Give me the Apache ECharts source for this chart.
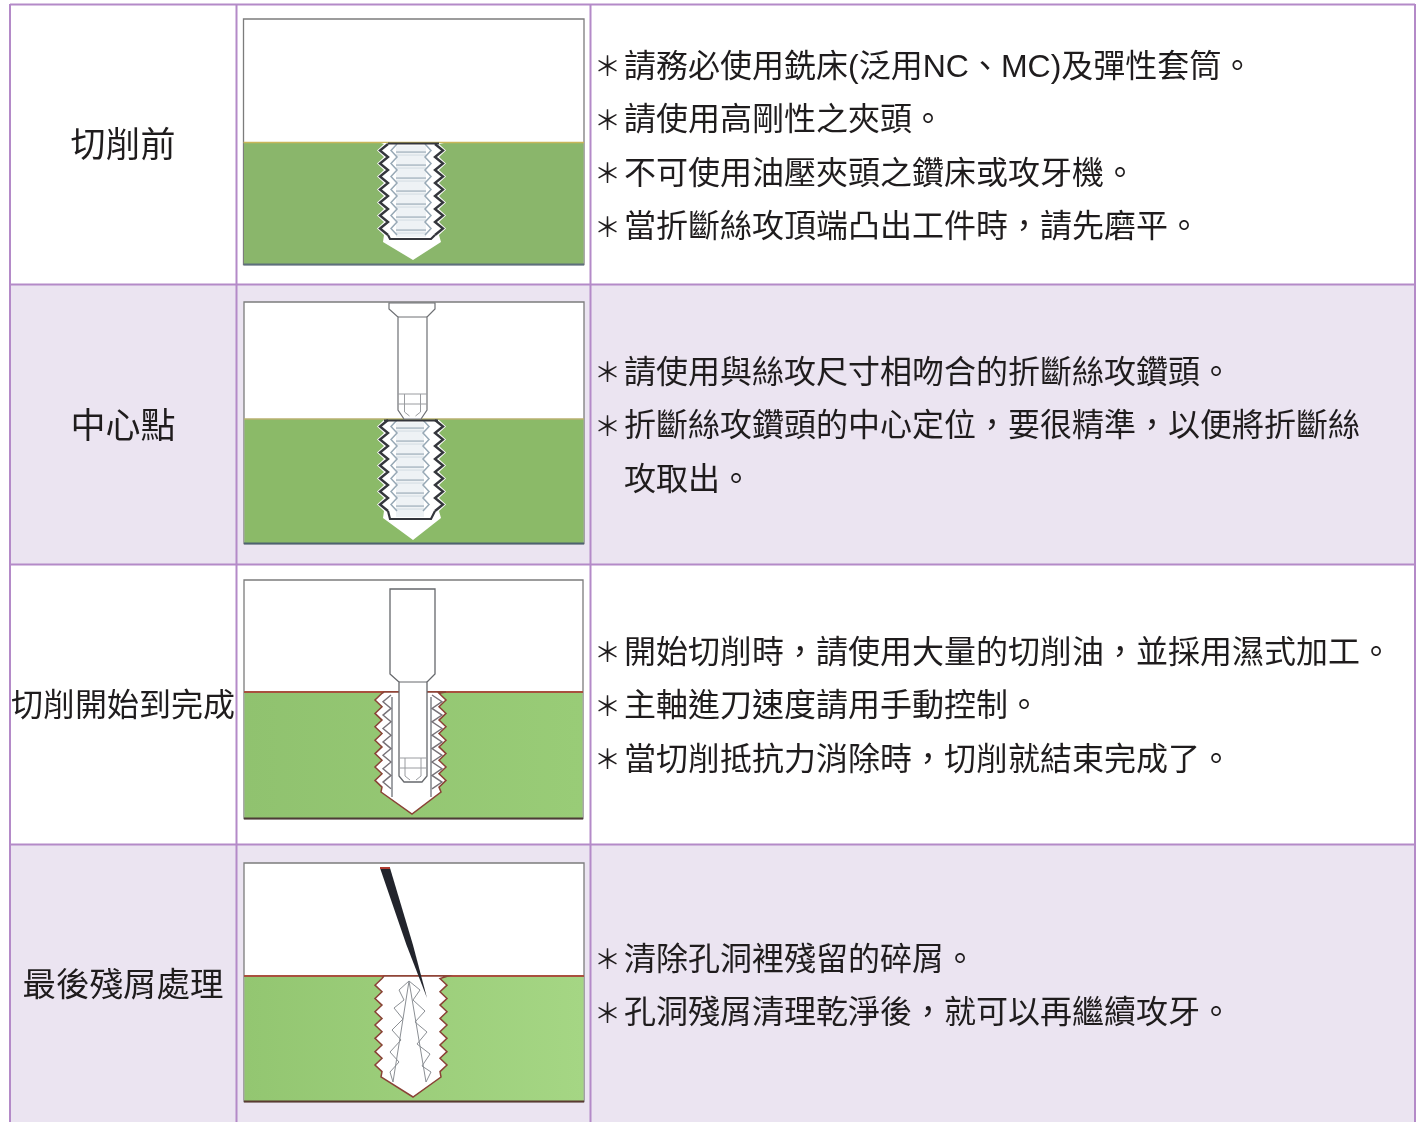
<!DOCTYPE html>
<html lang="zh-Hant">
<head>
    <meta charset="UTF-8">
    <title>斷絲攻取出步驟</title>
    <style>
        html,body{margin:0;padding:0;background:#fff;}
        #main{width:1423px;height:1122px;}
        /* 原圖是掃描件，邊緣略糊 */
        #main canvas{filter:blur(0.5px);}
    </style>
    <script src="https://cdn.jsdelivr.net/npm/echarts@6/dist/echarts.min.js"></script>
</head>
<body>
    <div id="main"></div>
<script>
    //步驟名稱
    var stageNames=['切削前','中心點','切削開始到完成','最後殘屑處理'];
    //每個步驟的說明
    var stageNotes1=['請務必使用銑床(泛用NC、MC)及彈性套筒。','請使用高剛性之夾頭。','不可使用油壓夾頭之鑽床或攻牙機。','當折斷絲攻頂端凸出工件時，請先磨平。'];
    var stageNotes2=['請使用與絲攻尺寸相吻合的折斷絲攻鑽頭。','折斷絲攻鑽頭的中心定位，要很精準，以便將折斷絲','攻取出。'];
    var stageNotes3=['開始切削時，請使用大量的切削油，並採用濕式加工。','主軸進刀速度請用手動控制。','當切削抵抗力消除時，切削就結束完成了。'];
    var stageNotes4=['清除孔洞裡殘留的碎屑。','孔洞殘屑清理乾淨後，就可以再繼續攻牙。'];

    var mCharts = echarts.init(document.getElementById('main'));
    var els=[];
    var cjk='"Liberation Sans","Noto Sans CJK TC",sans-serif';
    var lineColor='#b48ac8';
    var rowY=[4.5,284.5,564.5,844.5,1130];

    function rect(x,y,w,h,fill,stroke,lw){
        els.push({type:'rect',shape:{x:x,y:y,width:w,height:h},style:{fill:fill||'none',stroke:stroke||'none',lineWidth:lw||1},silent:true});
    }
    function line(pts,stroke,lw){
        els.push({type:'polyline',shape:{points:pts},style:{fill:'none',stroke:stroke,lineWidth:lw||1,lineJoin:'miter'},silent:true});
    }
    function poly(pts,fill,stroke,lw){
        els.push({type:'polygon',shape:{points:pts},style:{fill:fill,stroke:stroke||'none',lineWidth:lw||1},silent:true});
    }
    function text(str,x,y,size,align){
        els.push({type:'text',silent:true,style:{text:str,x:x,y:y,fill:'#1f1c1d',align:align||'left',verticalAlign:'middle',font:'400 '+size+'px '+cjk}});
    }
    //鋸齒
    function zig(a,b,y0,pitch,n){
        var pts=[];
        for(var i=0;i<n;i++){
            pts.push([b,y0+i*pitch]);
            pts.push([a,y0+i*pitch+pitch/2]);
        }
        pts.push([b,y0+n*pitch]);
        return pts;
    }
    //孔的外形
    function hole(o){
        var left=zig(o.xl,o.xli,o.y0,o.pitch,o.n);
        var right=zig(o.xr,o.xri,o.y0,o.pitch,o.n).reverse();
        var pts=[[o.xt1,o.top]].concat(left,[[o.xs1,o.sy],[o.cx,o.tip],[o.xs2,o.sy]],right,[[o.xt2,o.top]]);
        poly(pts,'#fff',o.edge,o.edgeW);
    }
    //綠色工件與外框
    function frame(x,y,w,h,groundY,green,topEdge,bottomEdge,edgeW){
        rect(x,y,w,h,'#fff','#7c7c7c',1.3);
        rect(x+0.5,groundY,w-1,y+h-groundY,green);
        line([[x,groundY],[x+w,groundY]],topEdge,edgeW);
        line([[x,y+h],[x+w,y+h]],bottomEdge,2);
    }
    //斷在孔內的絲攻
    function tap(o){
        var i,y;
        //內部螺紋面
        rect(o.rx1,o.top+2,o.rx2-o.rx1,o.bottom-o.top-4,'#eef2f5');
        for(i=0;i<o.n;i++){
            y=o.y0+i*o.pitch+o.pitch*0.62;
            line([[o.rx1,y],[o.rx2,y]],'#a3b2bd',1.3);
            line([[o.rx1,y+3],[o.rx2,y+3]],'#d3dce2',1);
        }
        line(zig(o.rx1-5,o.rx1+1,o.y0,o.pitch,o.n),'#98a9b6',1.5);
        line(zig(o.rx2+5,o.rx2-1,o.y0,o.pitch,o.n),'#98a9b6',1.5);
        //外圈深色螺紋
        line(zig(o.xl,o.xli,o.y0,o.pitch,o.n),'#34363c',2.4);
        line(zig(o.xr,o.xri,o.y0,o.pitch,o.n),'#34363c',2.4);
        line([[o.x1,o.top],[o.x2,o.top]],'#34363c',2.2);
        line([[o.xli,o.y0+o.n*o.pitch],[o.bx1,o.bottom],[o.bx2,o.bottom],[o.xri,o.y0+o.n*o.pitch]],'#34363c',2.2);
    }
    //鑽頭前端的格線
    function bitTip(x1,x2,y1,y2,c){
        var m=(x1+x2)/2;
        line([[x1,y1],[x2,y1]],c,1);
        line([[m-8,y1],[m-8,y2-5],[m-3,y2-1]],c,1);
        line([[m+8,y1],[m+8,y2-5],[m+3,y2-1]],c,1);
        line([[x1,y1+10],[x2,y1+10]],c,1);
    }
    function greenFade(a,b){
        return {type:'linear',x:0,y:0,x2:1,y2:0,colorStops:[{offset:0,color:a},{offset:1,color:b}]};
    }

    //表格底色
    rect(10,rowY[1],1405,rowY[2]-rowY[1],'#ebe4f1');
    rect(10,rowY[3],1405,rowY[4]-rowY[3],'#ebe4f1');

    //第一格 切削前
    frame(243.5,19,340.5,245.5,142.5,'#8ab66b','#c9b65a','#5d6f7c',1.5);
    hole({cx:413,top:143,xt1:381,xt2:444,xl:377,xli:384,xr:446,xri:439,y0:144,pitch:13,n:7,xs1:383,xs2:441,sy:242,tip:260,edge:'none'});
    tap({xl:380,xli:388,xr:443,xri:435,y0:144,pitch:13,n:7,top:143.5,bottom:239,x1:388,x2:439,bx1:390,bx2:431,rx1:396,rx2:426});

    //第二格 中心點
    frame(244,302,340,241.5,419,'#8bba68','#b9b070','#4e6270',1.5);
    hole({cx:413,top:420,xt1:381,xt2:445,xl:377,xli:384,xr:446,xri:439,y0:420,pitch:13,n:7,xs1:383,xs2:441,sy:518,tip:540,edge:'none'});
    tap({xl:380,xli:388,xr:443,xri:435,y0:420,pitch:13,n:7,top:420.5,bottom:519,x1:384,x2:438,bx1:390,bx2:431,rx1:396,rx2:424});
    poly([[389,303],[435,303],[435,309],[427,317],[427,410],[421,419],[404,419],[398,410],[398,317],[389,309]],'#fff','#6e7074',1.2);
    line([[398,317],[427,317]],'#6e7074',1);
    bitTip(398,427,394,417,'#9a9ca0');

    //第三格 切削開始到完成
    frame(244,580,339,238.5,692,greenFade('#90c26f','#99cc77'),'#a9503e','#4d3b36',1.8);
    hole({cx:412,top:692,xt1:384,xt2:446,xl:375,xli:382,xr:446,xri:439,y0:693.3,pitch:13.4,n:7,xs1:381,xs2:441,sy:792,tip:814,edge:'#8a4236',edgeW:1.5});
    //鑽完後留下的絲攻碎片
    line(zig(383,391,695,13.4,7),'#777278',1.4);
    line(zig(442,432,695,13.4,7),'#777278',1.4);
    line([[392,697],[392,797]],'#6e7278',1.3);
    line([[431,697],[431,797]],'#6e7278',1.3);
    poly([[390,589],[435,589],[435,674],[427,682],[427,776],[422,782],[404,782],[399,776],[399,682],[390,674]],'#fff','#66686c',1.3);
    line([[399,682],[427,682]],'#66686c',1);
    bitTip(399,427,758,781,'#9a9ca0');

    //第四格 最後殘屑處理
    frame(244,863,340,238.5,976,greenFade('#93c671','#a5d684'),'#a9503e','#5a3a32',1.8);
    hole({cx:413,top:976,xt1:384,xt2:448,xl:375,xli:382,xr:447,xri:440,y0:978.5,pitch:13.3,n:7,xs1:381,xs2:441,sy:1077,tip:1097,edge:'#8a4236',edgeW:1.5});
    //殘屑
    line([[409,981],[393,1082]],'#8b8f94',1);
    line([[409,981],[426,1082]],'#8b8f94',1);
    line([[409,981],[399,990],[404,1000],[394,1008],[403,1019],[392,1030],[401,1040],[390,1052],[399,1062],[390,1072],[393,1082]],'#8b8f94',1);
    line([[409,981],[420,990],[413,1000],[425,1011],[415,1022],[427,1032],[417,1044],[430,1054],[422,1066],[431,1072],[426,1082]],'#8b8f94',1);
    poly([[380,868],[390,868],[413,945],[427,998],[406.5,945]],'#22242c');
    line([[380,868],[390,868]],'#b03a30',2);

    //表格線
    rowY.forEach(function(y){ line([[10,y],[1415,y]],lineColor,2); });
    [10,236.5,590.5,1415].forEach(function(x){ line([[x,4],[x,1122]],lineColor,2); });

    //左欄文字
    var labelSize=[35,35,32,33.5];
    var labelY=[147,428,707,987];
    stageNames.forEach(function(s,i){ text(s,123,labelY[i],labelSize[i],'center'); });

    //右欄文字
    function notes(list,y0,noStarFrom){
        list.forEach(function(s,i){
            var y=y0+i*53.4;
            if(i!==noStarFrom){ text('＊',594,y+1,27); }
            text(s,624,y,32);
        });
    }
    notes(stageNotes1,68,-1);
    notes(stageNotes2,374,2);
    notes(stageNotes3,654,-1);
    notes(stageNotes4,961,-1);

    var option={
        backgroundColor:'#fff',
        animation:false,
        graphic:{elements:els}
    };
    mCharts.setOption(option);
</script>
</body>
</html>
